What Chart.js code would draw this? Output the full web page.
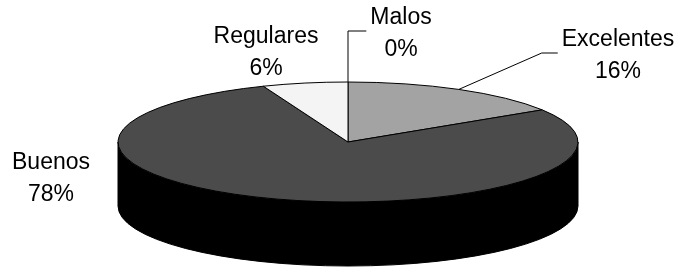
<!DOCTYPE html>
<html>
<head>
<meta charset="utf-8">
<style>
  html, body { margin: 0; padding: 0; background: #fff; }
  #wrap { width: 678px; height: 267px; position: relative; }
</style>
<script src="https://cdn.jsdelivr.net/npm/chart.js@4.4.1/dist/chart.umd.min.js"></script>
</head>
<body>
<div id="wrap"><canvas id="pieChart"></canvas></div>
<script>
const categories = ["Excelentes", "Buenos", "Regulares", "Malos"];
const values = [16, 78, 6, 0];

const sliceColors = ["#a3a3a3", "#4b4b4b", "#f4f4f4", "#ffffff"];
const sideColors = ["#5a5a5a", "#000000", "#9a9a9a", "#9a9a9a"];

// flat pie drawn as a tilted disc, angles come from chart.js arc elements
const pie3d = {
  id: "pie3d",
  beforeDatasetsDraw(chart, args, opts) {
    const ctx = chart.ctx;
    const arcs = chart.getDatasetMeta(0).data;
    const { left, right, top, bottom } = chart.chartArea;
    const cx = (left + right) / 2, cy = (top + bottom) / 2;
    const rx = (right - left) / 2, ry = (bottom - top) / 2;
    const d = opts.depth;

    ctx.save();
    ctx.lineWidth = 1;
    ctx.strokeStyle = "#000";
    ctx.lineJoin = "round";

    // side wall, only the front half (0..PI) shows
    arcs.forEach((arc, i) => {
      const s = Math.max(arc.startAngle, 0);
      const e = Math.min(arc.endAngle, Math.PI);
      if (e <= s) return;
      ctx.beginPath();
      ctx.ellipse(cx, cy, rx, ry, 0, s, e);
      ctx.ellipse(cx, cy + d, rx, ry, 0, e, s, true);
      ctx.closePath();
      ctx.fillStyle = opts.sideColors[i];
      ctx.fill();
      ctx.stroke();
    });

    // top face
    arcs.forEach((arc) => {
      if (arc.endAngle - arc.startAngle <= 0) return;
      ctx.beginPath();
      ctx.moveTo(cx, cy);
      ctx.ellipse(cx, cy, rx, ry, 0, arc.startAngle, arc.endAngle);
      ctx.closePath();
      ctx.fillStyle = arc.options.backgroundColor;
      ctx.fill();
      ctx.stroke();
    });
    ctx.restore();
    return false;
  },
  afterDraw(chart, args, opts) {
    const ctx = chart.ctx;
    const arcs = chart.getDatasetMeta(0).data;
    const { left, right, top, bottom } = chart.chartArea;
    const cx = (left + right) / 2, cy = (top + bottom) / 2;
    const rx = (right - left) / 2, ry = (bottom - top) / 2;
    const total = values.reduce((a, b) => a + b, 0);

    ctx.save();
    ctx.font = "23px 'Liberation Sans', Arial, sans-serif";
    ctx.fillStyle = "#000";
    ctx.textAlign = "center";
    ctx.textBaseline = "middle";

    arcs.forEach((arc, i) => {
      const lbl = opts.labels[i];
      const x = cx + lbl.dx, y = cy + lbl.dy;
      const pct = Math.round((values[i] / total) * 100) + "%";
      ctx.fillText(categories[i], x, y);
      ctx.fillText(pct, x, y + opts.lineGap);

      if (lbl.leader) {
        const mid = (arc.startAngle + arc.endAngle) / 2;
        const px = cx + rx * Math.cos(mid);
        const py = cy + ry * Math.sin(mid);
        const w = ctx.measureText(categories[i]).width;
        const ex = x - w / 2 - 4;
        const ey = y + opts.lineGap / 2 - 3;
        ctx.beginPath();
        ctx.lineWidth = 1;
        ctx.strokeStyle = "#000";
        ctx.moveTo(px, py);
        ctx.lineTo(lbl.vertical ? px : ex - 16, ey);
        ctx.lineTo(ex, ey);
        ctx.stroke();
      }
    });
    ctx.restore();
  }
};

new Chart(document.getElementById("pieChart"), {
  type: "pie",
  data: {
    labels: categories,
    datasets: [{
      data: values,
      backgroundColor: sliceColors,
      borderWidth: 0
    }]
  },
  options: {
    responsive: true,
    maintainAspectRatio: false,
    animation: false,
    events: [],
    layout: { padding: { left: 118, right: 100, top: 82, bottom: 65 } },
    plugins: {
      legend: { display: false },
      tooltip: { enabled: false },
      pie3d: {
        depth: 64,
        sideColors: sideColors,
        lineGap: 32,
        labels: [
          { dx: 270, dy: -102, leader: true },
          { dx: -297, dy: 21 },
          { dx: -82, dy: -105 },
          { dx: 53, dy: -124, leader: true, vertical: true }
        ]
      }
    }
  },
  plugins: [pie3d]
});
</script>
</body>
</html>
